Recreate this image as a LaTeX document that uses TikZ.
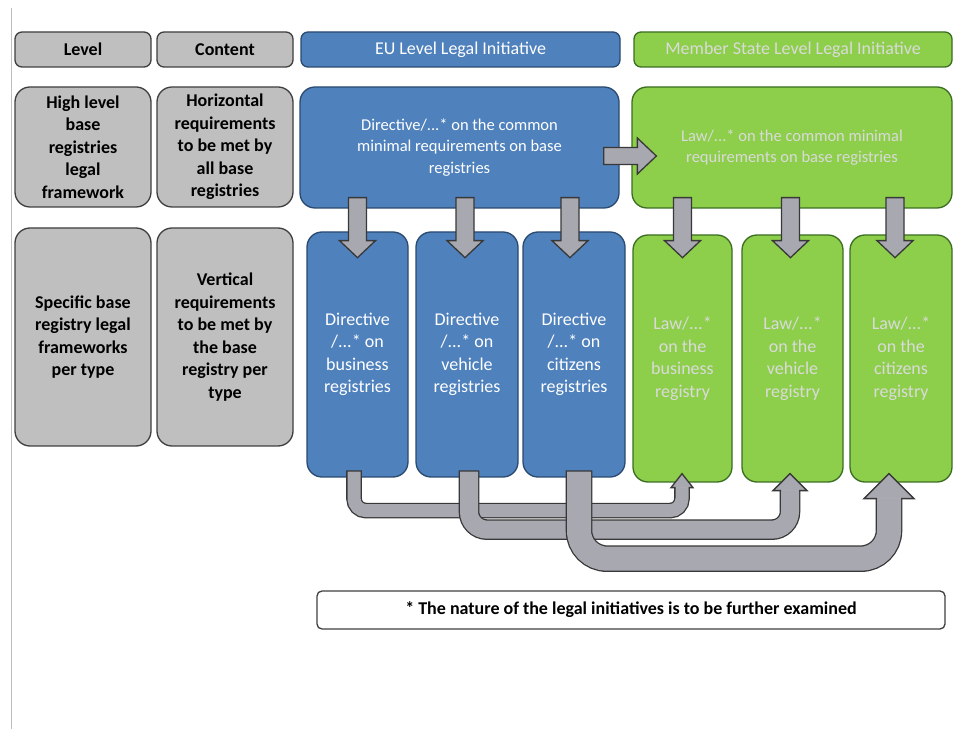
\documentclass[tikz,border=0pt]{standalone}
\usepackage{fontspec}
\setmainfont{Carlito}
\usetikzlibrary{calc}

\definecolor{boxgray}{HTML}{BFBFBF}
\definecolor{graydark}{HTML}{3F3F3F}
\definecolor{eublue}{HTML}{4F81BD}
\definecolor{bluedark}{HTML}{2A4A70}
\definecolor{msgreen}{HTML}{8DCF4A}
\definecolor{greendark}{HTML}{3B6E22}
\definecolor{mstext}{HTML}{DADADA}
\definecolor{arrowgray}{HTML}{A8A8B0}
\definecolor{arrowdark}{HTML}{383838}

% block arrow pointing down from an upper panel into a lower box
\newcommand\dnarrow[3]{%
  \path[blockarrow] let \p1=(#2.north), \p2=(#1.south) in
    (\x1+#3-9pt,\y2+11pt) -- (\x1+#3+9pt,\y2+11pt) -- (\x1+#3+9pt,\y2-32pt)
    -- (\x1+#3+18pt,\y2-32pt) -- (\x1+#3,\y2-49pt) -- (\x1+#3-18pt,\y2-32pt)
    -- (\x1+#3-9pt,\y2-32pt) -- cycle;}

% U-shaped block arrow from the foot of one box to the foot of another
% #1 source, #2 target, #3 source x shift, #4 target x shift, #5 half width,
% #6 depth of the run, #7 corner radius, #8 head half width, #9 head base offset
\newcommand\uarrow[9]{%
  \path let \p1=(#1.south), \p2=(#2.south) in
    coordinate (ua) at (\x1+#3,\y1+6pt)
    coordinate (ub) at (\x1+#3,\y1-#6)
    coordinate (uc) at (\x2+#4,\y1-#6)
    coordinate (ud) at (\x2+#4,\y2-#9)
    coordinate (ue) at (\x2+#4,\y2+9pt);
  \draw[arrowdark, line width=2*#5+2.6pt, rounded corners=#7]
    ([yshift=1.3pt]ua) -- (ub) -- (uc) -- (ud);
  \draw[arrowgray, line width=2*#5, rounded corners=#7]
    (ua) -- (ub) -- (uc) -- (ud);
  \path[fill=arrowgray, draw=arrowdark, line width=1.3pt, line join=miter]
    ([xshift=-#5]ud) -- ([xshift=-#8]ud) -- (ue) -- ([xshift=#8]ud) -- ([xshift=#5]ud);}

\begin{document}
\begin{tikzpicture}[x=1pt,y=1pt,
  txt/.style={align=center, inner sep=0pt, line width=1.3pt,
    font=\fontsize{18}{22.5}\selectfont},
  graybox/.style={txt, draw=graydark, fill=boxgray, text=black,
    font=\fontsize{18}{22.5}\selectfont\bfseries},
  bluebox/.style={txt, draw=bluedark, fill=eublue, text=white},
  greenbox/.style={txt, draw=greendark, fill=msgreen, text=mstext},
  topfont/.style={font=\fontsize{16.5}{21.5}\selectfont},
  headrow/.style={rounded corners=7pt, minimum height=35pt},
  panel/.style={rounded corners=15pt},
  blockarrow/.style={fill=arrowgray, draw=arrowdark, line width=1.3pt, line join=miter},
  notebox/.style={txt, draw=graydark, fill=white, rounded corners=5pt,
    font=\fontsize{18}{22}\selectfont\bfseries}
]
\useasboundingbox (0,0) rectangle (959,729);
\fill[white] (0,0) rectangle (959,729);

% page rule on the left
\draw[gray!50, line width=1.2pt] (11.5,721) -- (11.5,0);

% header row
\node[graybox, headrow, minimum width=136pt] (lvl) at (83,679.5) {Level};
\node[graybox, headrow, minimum width=136pt] (cnt) at (225,679.5) {Content};
\node[bluebox, headrow, minimum width=319pt] (euhead) at (460.5,679.5) {EU Level Legal Initiative};
\node[greenbox, headrow, minimum width=318pt] (mshead) at (793,679.5) {Member State Level Legal Initiative};

% framework row
\node[graybox, panel, minimum width=136pt, minimum height=120pt] (hilvl) at (83,582)
  {High level\\base\\registries\\legal\\framework};
\node[graybox, panel, minimum width=136pt, minimum height=120pt] (hicnt) at (225,582)
  {Horizontal\\requirements\\to be met by\\all base\\registries};
\node[bluebox, topfont, panel, minimum width=319pt, minimum height=121pt] (eutop) at (459.5,581.5)
  {Directive/...* on the common\\minimal requirements on base\\registries};
\node[greenbox, topfont, panel, minimum width=320pt, minimum height=121pt] (mstop) at (792,581.5)
  {\raisebox{-4pt}{\parbox{300pt}{\centering Law/...* on the common minimal\\requirements on base registries}}};

% per-type row
\node[graybox, panel, minimum width=136pt, minimum height=218pt] (splvl) at (83,392)
  {\raisebox{5pt}{\parbox{130pt}{\centering Specific base\\registry legal\\frameworks\\per type}}};
\node[graybox, panel, minimum width=136pt, minimum height=218pt] (spcnt) at (225,392)
  {Vertical\\requirements\\to be met by\\the base\\registry per\\type};

\node[bluebox, panel, minimum width=101pt, minimum height=245pt] (b1) at (357.5,374.5)
  {Directive\\/...* on\\business\\registries};
\node[bluebox, panel, minimum width=102pt, minimum height=245pt] (b2) at (467,374.5)
  {Directive\\/...* on\\vehicle\\registries};
\node[bluebox, panel, minimum width=102pt, minimum height=245pt] (b3) at (574,374.5)
  {Directive\\/...* on\\citizens\\registries};

\node[greenbox, panel, minimum width=99pt, minimum height=247pt] (g1) at (682.5,370.5)
  {Law/...*\\on the\\business\\registry};
\node[greenbox, panel, minimum width=101pt, minimum height=247pt] (g2) at (792.5,370.5)
  {Law/...*\\on the\\vehicle\\registry};
\node[greenbox, panel, minimum width=102pt, minimum height=247pt] (g3) at (901,370.5)
  {Law/...*\\on the\\citizens\\registry};

% EU level to member state level
\path[blockarrow] let \p1=(eutop.east), \p2=(mstop.west) in
  (\x1-16pt,\y1) -- (\x2+6pt,\y1) -- (\x2+6pt,\y1+9.5pt) -- (\x2+25pt,\y1-8.5pt)
  -- (\x2+6pt,\y1-26.5pt) -- (\x2+6pt,\y1-17pt) -- (\x1-16pt,\y1-17pt) -- cycle;

% common requirements down to each registry type
\dnarrow{eutop}{b1}{0pt}
\dnarrow{eutop}{b2}{-2pt}
\dnarrow{eutop}{b3}{-4pt}
\dnarrow{mstop}{g1}{0pt}
\dnarrow{mstop}{g2}{-2pt}
\dnarrow{mstop}{g3}{-6pt}

% each directive transposed into its national law
\uarrow{b1}{g1}{-3.5pt}{-0.5pt}{6.5pt}{33pt}{12pt}{11pt}{5pt}
\uarrow{b2}{g2}{2pt}{-2.5pt}{9pt}{52pt}{18pt}{17pt}{8pt}
\uarrow{b3}{g3}{5pt}{-12pt}{12pt}{81pt}{28pt}{25pt}{16pt}

% footnote
\node[notebox, minimum width=628pt, minimum height=38pt] (note) at (631,119)
  {* The nature of the legal initiatives is to be further examined};
\end{tikzpicture}
\end{document}
